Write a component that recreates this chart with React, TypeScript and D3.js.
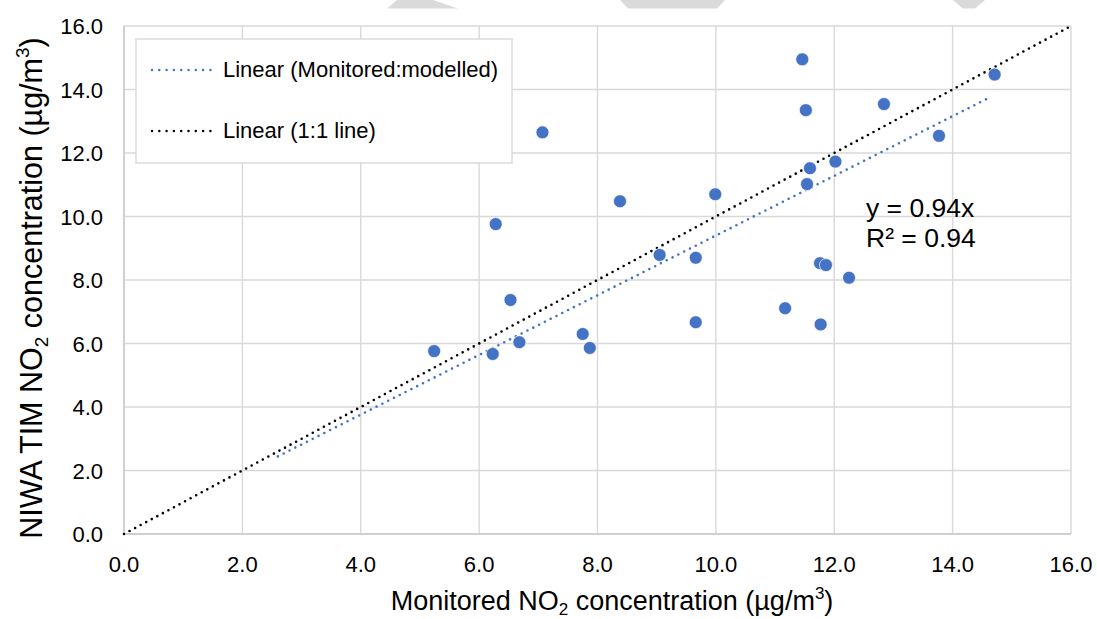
import * as d3 from "d3";

// monitored (x) vs NIWA TIM modelled (y) NO2, µg/m3
const monitored = [5.24, 6.23, 6.68, 6.53, 6.28, 7.07, 7.75, 7.87, 8.38, 9.05, 9.66, 9.66, 9.99, 11.17, 11.46, 11.52, 11.59, 11.54, 11.76, 11.86, 12.25, 11.77, 12.02, 12.84, 13.77, 14.71];
const modelled = [5.76, 5.67, 6.04, 7.37, 9.76, 12.65, 6.3, 5.86, 10.48, 8.79, 8.7, 6.67, 10.7, 7.11, 14.95, 13.35, 11.52, 11.02, 8.53, 8.47, 8.07, 6.6, 11.73, 13.54, 12.54, 14.47];

const ticks = [0, 2, 4, 6, 8, 10, 12, 14, 16];
const trendSlope = 0.94;
const trendRange = [2.6, 14.65];
const oneToOneRange = [0, 16];
const legendLabels = ["Linear (Monitored:modelled)", "Linear (1:1 line)"];

const W = 1097;
const H = 619;
const margin = { top: 26, right: 26, bottom: 85, left: 124 };
const font = "'Liberation Sans', Arial, sans-serif";
const blue = "#4472c4";
const grid = "#d9d9d9";

export default function App() {
  const x = d3.scaleLinear().domain([0, 16]).range([margin.left, W - margin.right]);
  const y = d3.scaleLinear().domain([0, 16]).range([H - margin.bottom, margin.top]);
  const fmt = d3.format(".1f");

  const line = d3.line<number>().x(d => x(d)).y(d => y(d));
  const trend = d3.line<number>().x(d => x(d)).y(d => y(d * trendSlope));

  const points = monitored.map((m, i) => ({ m, v: modelled[i] }));

  return (
    <svg width={W} height={H} style={{ position: "absolute", left: 0, top: 0, background: "#fff" }} fontFamily={font}>
      {/* watermark remnants at top */}
      <g fill="#dadada">
        <polygon points="387,8.5 397,0 433,0 458,8.5" />
        <polygon points="620,0 725,0 717,8.5 628,8.5" />
        <polygon points="953,0 985,0 975,8.5 963,8.5" />
      </g>

      {/* grid */}
      <g stroke={grid} strokeWidth={1.4}>
        {ticks.map(t => (
          <line key={"gx" + t} x1={x(t)} x2={x(t)} y1={y(0)} y2={y(16)} />
        ))}
        {ticks.map(t => (
          <line key={"gy" + t} x1={x(0)} x2={x(16)} y1={y(t)} y2={y(t)} />
        ))}
      </g>
      <line x1={x(0)} x2={x(16)} y1={y(0)} y2={y(0)} stroke="#d0d0d0" strokeWidth={2} />
      <line x1={x(0)} x2={x(0)} y1={y(0)} y2={y(16)} stroke="#d0d0d0" strokeWidth={2} />

      {/* tick labels */}
      <g fontSize={22} fill="#000">
        {ticks.map(t => (
          <text key={"tx" + t} x={x(t)} y={572} textAnchor="middle">{fmt(t)}</text>
        ))}
        {ticks.map(t => (
          <text key={"ty" + t} x={103} y={y(t) + 8} textAnchor="end">{fmt(t)}</text>
        ))}
      </g>

      {/* legend */}
      <rect x={136} y={39} width={376} height={124} fill="#fff" stroke={grid} strokeWidth={1.4} />
      <line x1={152} x2={211} y1={70} y2={70} stroke={blue} strokeWidth={2.5} strokeLinecap="round" strokeDasharray="0 7.3" />
      <line x1={152} x2={211} y1={131} y2={131} stroke="#000" strokeWidth={2.5} strokeLinecap="round" strokeDasharray="0 7.3" />
      <text x={223} y={77} fontSize={22}>{legendLabels[0]}</text>
      <text x={223} y={138} fontSize={22}>{legendLabels[1]}</text>

      {/* lines */}
      <path d={line(oneToOneRange) || ""} stroke="#000" strokeWidth={2.6} strokeLinecap="round" strokeDasharray="0 6.3" fill="none" />
      <path d={trend(trendRange) || ""} stroke={blue} strokeWidth={2.6} strokeLinecap="round" strokeDasharray="0 6.5" fill="none" />

      {/* points */}
      <g>
        {points.map((p, i) => (
          <circle key={i} cx={x(p.m)} cy={y(p.v)} r={6.5} fill={blue} stroke="#fff" strokeOpacity={0.7} strokeWidth={1} />
        ))}
      </g>

      {/* equation */}
      <text x={866} y={217} fontSize={26.5}>y = 0.94x</text>
      <text x={866} y={247} fontSize={26.5}>R² = 0.94</text>

      {/* axis titles */}
      <text x={612} y={610} fontSize={27} textAnchor="middle">
        Monitored NO<tspan fontSize={17} dy={5}>2</tspan><tspan dy={-5}> concentration (µg/m</tspan><tspan fontSize={17} dy={-11}>3</tspan><tspan dy={11}>)</tspan>
      </text>
      <text transform="translate(42,288) rotate(-90)" fontSize={30.5} textAnchor="middle">
        NIWA TIM NO<tspan fontSize={19} dy={6}>2</tspan><tspan dy={-6}> concentration (µg/m</tspan><tspan fontSize={19} dy={-13}>3</tspan><tspan dy={13}>)</tspan>
      </text>
    </svg>
  );
}
